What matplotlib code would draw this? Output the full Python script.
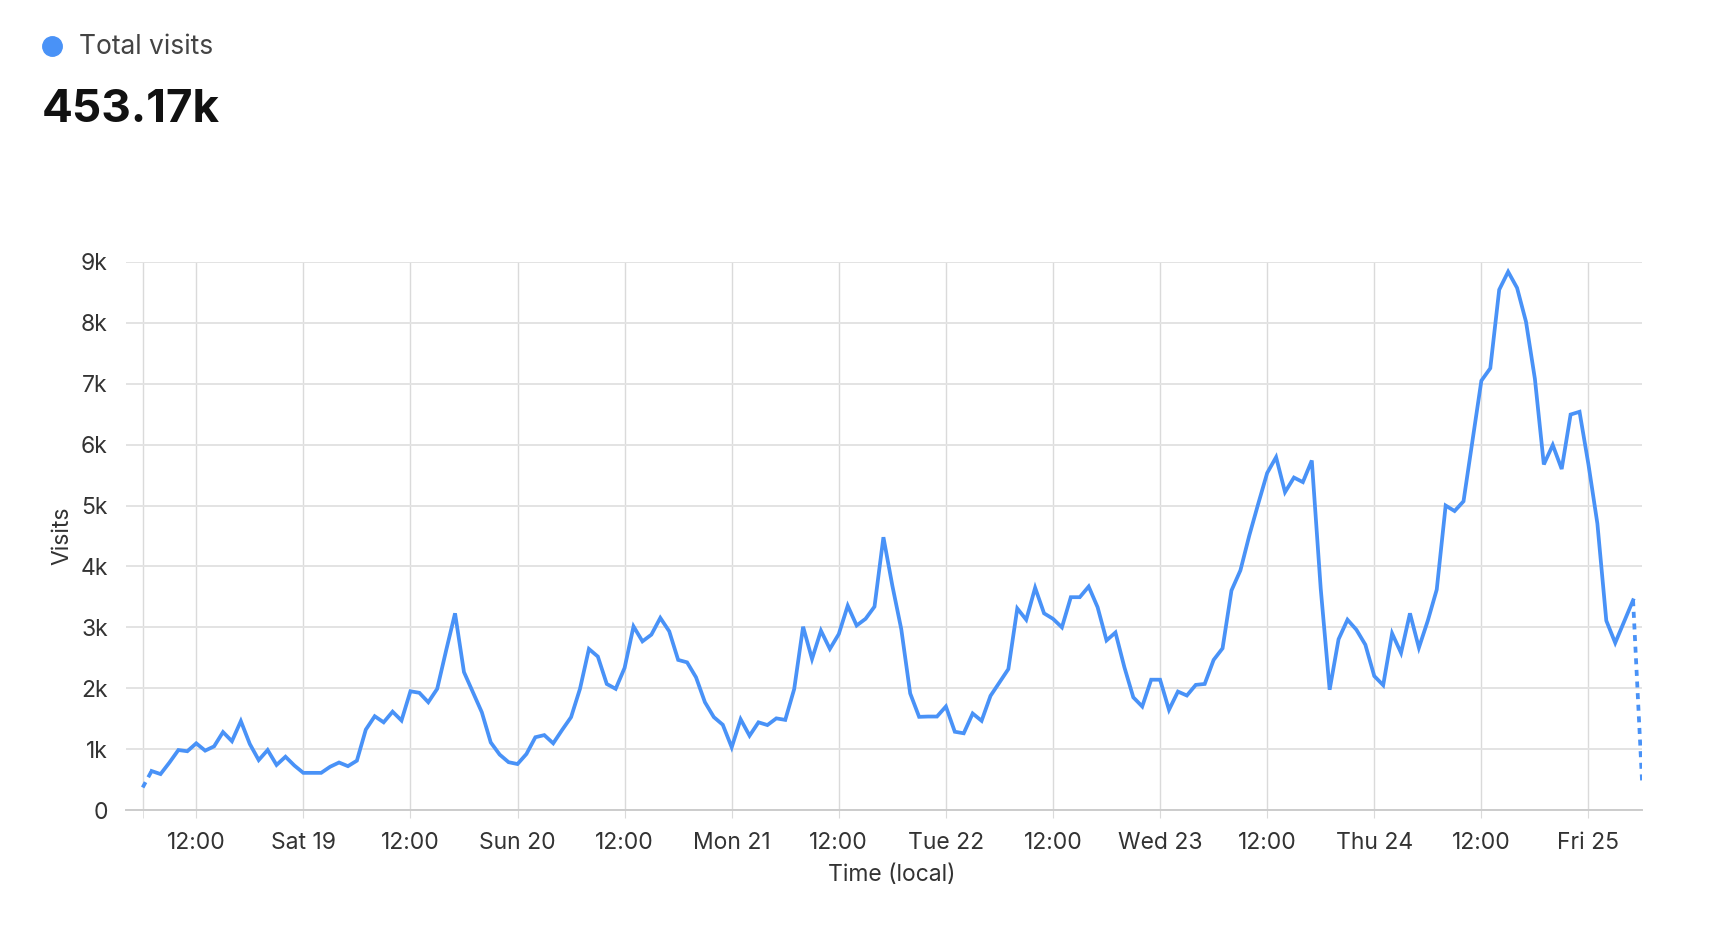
import pandas as pd
import matplotlib.pyplot as plt
import matplotlib.dates as mdates
from matplotlib.lines import Line2D

plt.rcParams['font.family'] = ['Inter', 'DejaVu Sans']

# hourly visits, Fri 18 06:00 -> Fri 25 06:00
visits = [
    370, 640, 590, 780, 985, 965, 1095, 975, 1045, 1280, 1130, 1460,
    1085, 820, 985, 740, 875, 730, 610, 610, 610, 710, 780, 720,
    810, 1320, 1540, 1440, 1615, 1470, 1950, 1925, 1770, 1990, 2620, 3230,
    2265, 1935, 1605, 1110, 910, 785, 755, 920, 1195, 1230, 1095, 1315,
    1525, 1990, 2645, 2520, 2070, 1990, 2335, 3015, 2770, 2880, 3155, 2935,
    2465, 2425, 2180, 1770, 1525, 1400, 1030, 1490, 1220, 1440, 1395, 1505,
    1480, 1985, 3010, 2480, 2945, 2645, 2890, 3355, 3030, 3140, 3340, 4480,
    3685, 2970, 1915, 1530, 1535, 1535, 1700, 1285, 1260, 1585, 1465, 1875,
    2095, 2315, 3310, 3125, 3650, 3230, 3140, 3000, 3495, 3495, 3670, 3330,
    2785, 2915, 2345, 1850, 1700, 2140, 2140, 1645, 1945, 1880, 2055, 2070,
    2465, 2655, 3605, 3935, 4510, 5030, 5535, 5795, 5220, 5460, 5385, 5740,
    3635, 1975, 2805, 3125, 2960, 2715, 2200, 2050, 2900, 2580, 3230, 2665,
    3110, 3620, 5000, 4910, 5070, 6055, 7050, 7255, 8545, 8840, 8575, 8020,
    7080, 5675, 5995, 5600, 6495, 6540, 5675, 4705, 3110, 2745, 3095, 3445,
    485,
]
times = pd.date_range('2025-07-18 06:00', periods=len(visits), freq='h')
total_label = '453.17k'
series_name = 'Total visits'

blue = '#4992F7'
text_col = '#333333'

fig = plt.figure(figsize=(17.22, 9.3), dpi=100)
ax = fig.add_axes([126 / 1722, 1 - 810 / 930, 1516 / 1722, 548 / 930])

# solid middle, dashed first and last (incomplete) hours
ax.plot(times[1:-1], visits[1:-1], color=blue, lw=2.7, solid_joinstyle='miter')
ax.plot(times[:2], visits[:2], color=blue, lw=2.7, linestyle=(0, (1.6, 1.5)))
ax.plot(times[-2:], visits[-2:], color=blue, lw=2.7, linestyle=(0, (1.6, 1.5)))

ax.set_ylim(0, 9000)
ax.set_yticks(range(0, 9001, 1000))
ax.set_yticklabels(['0'] + [f'{k}k' for k in range(1, 10)])
ax.set_xlim(times[0] - pd.Timedelta(hours=1.87), times[-1])

ax.xaxis.set_major_locator(mdates.HourLocator(byhour=[0, 12]))
ax.xaxis.set_major_formatter(plt.FuncFormatter(
    lambda v, p: (lambda d: d.strftime('%a %d') if d.hour == 0 else d.strftime('%H:%M'))(mdates.num2date(v))))
ax.set_xticks([times[0]], minor=True)

ax.grid(axis='y', color='#e3e3e3', lw=1.4)
ax.grid(axis='x', which='both', color='#dadada', lw=1.0)
ax.set_axisbelow(True)

for s in ['top', 'right', 'left']:
    ax.spines[s].set_visible(False)
ax.spines['bottom'].set_color('#cccccc')
ax.spines['bottom'].set_linewidth(1.4)

ax.tick_params(axis='y', length=0, pad=13, labelsize=16.5, labelcolor=text_col)
ax.tick_params(axis='x', which='both', length=6, color='#dadada', pad=9.5,
               labelsize=16.5, labelcolor=text_col)

ax.set_ylabel('Visits', fontsize=16.5, color=text_col, va='center')
ax.yaxis.set_label_coords(-0.042, 0.5)
ax.set_xlabel('Time (local)', fontsize=16.5, color=text_col)
ax.xaxis.set_label_coords(0.505, -0.119)
ax.xaxis.label.set_va('center')

# header
fig.add_artist(Line2D([52 / 1722], [1 - 46 / 930], marker='o', markersize=14,
                      color=blue, transform=fig.transFigure))
fig.text(79 / 1722, 1 - 47 / 930, series_name, fontsize=19, color='#444444', va='center')
fig.text(42 / 1722, 1 - 122 / 930, total_label, fontsize=33, fontweight='bold',
         color='#111111', va='baseline')

fig.savefig('out.png', dpi=100)
